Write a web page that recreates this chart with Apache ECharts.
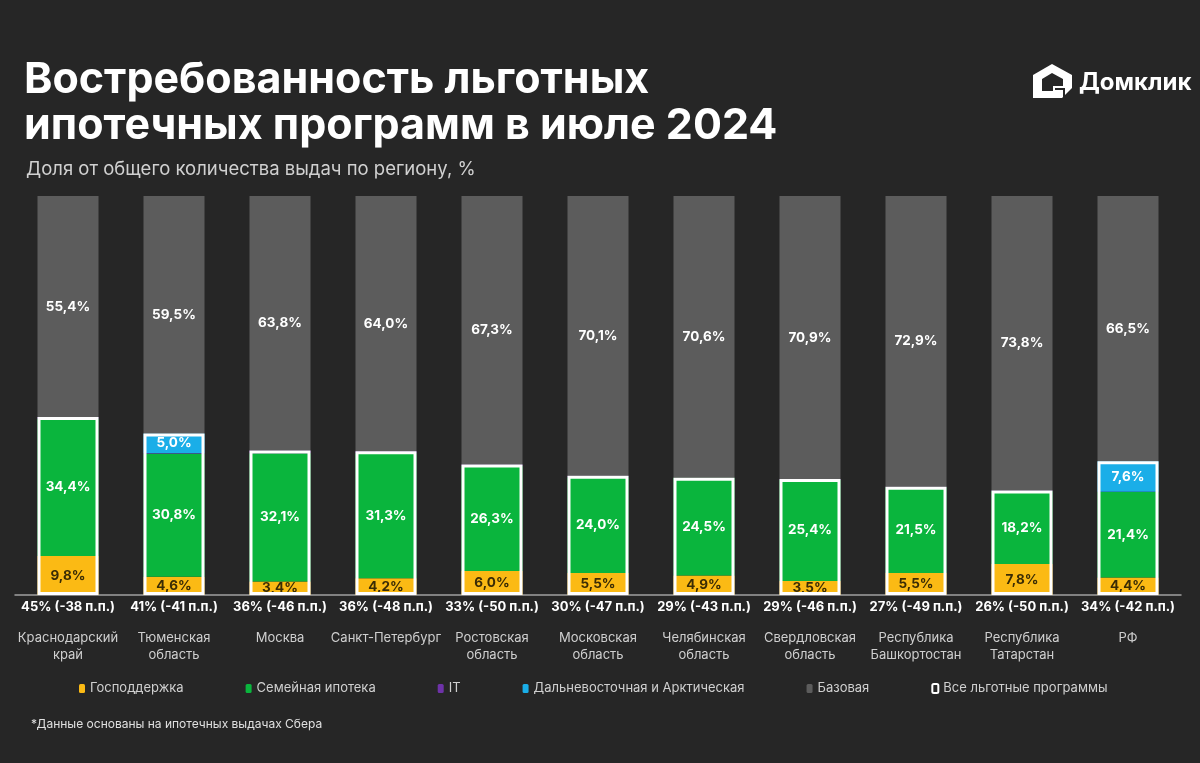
<!DOCTYPE html>
<html><head><meta charset="utf-8">
<script src="https://cdn.jsdelivr.net/npm/echarts@6/dist/echarts.min.js"></script>
<style>html,body{margin:0;padding:0;background:#262626}#c{width:1200px;height:763px}</style>
</head><body><div id="c"></div><script>
const categories = ['Краснодарский\nкрай','Тюменская\nобласть','Москва','Санкт-Петербург','Ростовская\nобласть','Московская\nобласть','Челябинская\nобласть','Свердловская\nобласть','Республика\nБашкортостан','Республика\nТатарстан','РФ'];
const gos  = [9.8, 4.6, 3.4, 4.2, 6.0, 5.5, 4.9, 3.5, 5.5, 7.8, 4.4];
const sem  = [34.4, 30.8, 32.1, 31.3, 26.3, 24.0, 24.5, 25.4, 21.5, 18.2, 21.4];
const itv  = [0.4, 0.1, 0.7, 0.5, 0.4, 0.4, 0.0, 0.2, 0.1, 0.2, 0.1];
const dv   = [0, 5.0, 0, 0, 0, 0, 0, 0, 0, 0, 7.6];
const base = [55.4, 59.5, 63.8, 64.0, 67.3, 70.1, 70.6, 70.9, 72.9, 73.8, 66.5];
const totalShare = [45, 41, 36, 36, 33, 30, 29, 29, 27, 26, 34];
const changePP = [-38, -41, -46, -48, -50, -47, -43, -46, -49, -50, -42];
const seriesNames = ['Господдержка','Семейная ипотека','IT','Дальневосточная и Арктическая','Базовая','Все льготные программы'];

const allPref = gos.map((v,i)=> +(v + sem[i] + itv[i] + dv[i]).toFixed(1));
const FONT = 'Inter, "Open Sans", sans-serif';
const fmt = p => (p.value ? p.value.toFixed(1).replace('.', ',') + '%' : '');
const lbl = (color) => ({show:true, position:'inside', color, fontFamily:FONT, fontWeight:'bold', fontSize:13.5, formatter:fmt});

const chart = echarts.init(document.getElementById('c'), null, {renderer:'canvas'});
const barW = 61;
const mk = (name, data, color, label) => ({
  name, type:'bar', stack:'s', data, barWidth:barW, barGap:'-100%',
  itemStyle:{color}, label: label || {show:false}, emphasis:{disabled:true}
});
chart.setOption({
  backgroundColor:'#262626',
  animation:false,
  title:[
    {text:'Востребованность льготных\nипотечных программ в июле 2024', left:19, top:52,
     textStyle:{color:'#ffffff', fontFamily:FONT, fontWeight:'bold', fontSize:43, lineHeight:46}},
    {text:'Доля от общего количества выдач по региону, %', left:21, top:155,
     textStyle:{color:'#d0d0d0', fontFamily:FONT, fontWeight:'normal', fontSize:18.5}},
    {text:'*Данные основаны на ипотечных выдачах Сбера', left:26, top:713,
     textStyle:{color:'#e0e0e0', fontFamily:FONT, fontWeight:'normal', fontSize:12}}
  ],
  legend:{
    left:74, top:677, itemGap:62, itemWidth:6, itemHeight:9,
    textStyle:{color:'#d0d0d0', fontFamily:FONT, fontSize:13},
    data:[
      {name:seriesNames[0]},{name:seriesNames[1]},{name:seriesNames[2]},{name:seriesNames[3]},{name:seriesNames[4]},
      {name:seriesNames[5], itemStyle:{color:'#262626', borderColor:'#ffffff', borderWidth:2}}
    ]
  },
  grid:{left:15, right:19, top:196, bottom:168},
  xAxis:{
    type:'category', data:categories,
    axisLine:{lineStyle:{color:'#a0a0a0', width:1.5}},
    axisTick:{show:false},
    axisLabel:{
      interval:0, margin:3,
      formatter:(v,i)=>{
        const s = '{s|' + totalShare[i] + '% (' + changePP[i] + ' п.п.)}';
        const c = v.split('\n').map(t=>'{c|' + t + '}').join('\n');
        return s + '\n{g|}\n' + c;
      },
      rich:{
        s:{color:'#ffffff', fontFamily:FONT, fontWeight:'bold', fontSize:13, lineHeight:18},
        g:{lineHeight:14, fontSize:2},
        c:{color:'#cfcfcf', fontFamily:FONT, fontSize:13, lineHeight:17}
      }
    }
  },
  yAxis:{type:'value', min:0, max:100, show:false},
  series:[
    mk(seriesNames[0], gos, '#fbba14', lbl('#3a2c05')),
    mk(seriesNames[1], sem, '#0ab53d', lbl('#ffffff')),
    mk(seriesNames[2], itv, '#6e32a8'),
    mk(seriesNames[3], dv, '#1aaee8', lbl('#ffffff')),
    mk(seriesNames[4], base, '#5c5c5c', lbl('#ffffff')),
    {name:seriesNames[5], type:'bar', data:allPref, barWidth:barW, barGap:'-100%', z:5,
     itemStyle:{color:'rgba(0,0,0,0)', borderColor:'#ffffff', borderWidth:3},
     label:{show:false}, emphasis:{disabled:true}}
  ],
  graphic:[
    {type:'polygon', shape:{points:[[1052,64],[1072,75],[1072,88],[1062,98],[1033,98],[1033,75]]}, style:{fill:'#ffffff'}},
    {type:'polygon', shape:{points:[[1052,73],[1063,79],[1063,86],[1053,86],[1053,91],[1042,91],[1042,79]]}, style:{fill:'#262626'}},
    {type:'polyline', shape:{points:[[1055,89],[1064,89],[1064,97]]}, style:{stroke:'#262626', lineWidth:2, fill:null}},
    {type:'text', left:1079, top:71, style:{text:'Домклик', fill:'#ffffff', font:'bold 24px ' + FONT}}
  ]
});
</script></body></html>
